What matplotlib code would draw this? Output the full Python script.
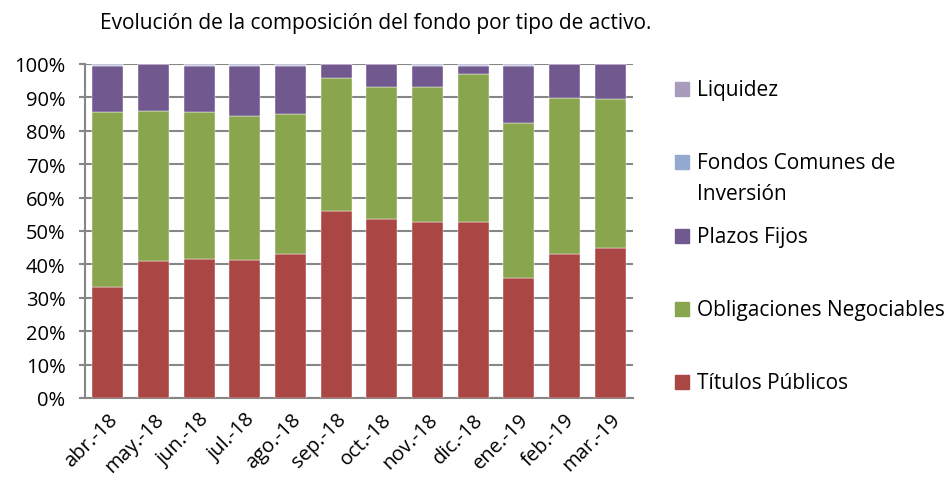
import numpy as np
import matplotlib.pyplot as plt
from matplotlib.patches import Rectangle
from matplotlib.ticker import PercentFormatter

plt.rcParams['font.family'] = ['Open Sans', 'DejaVu Sans']

# months and stacked shares (%)
months = ['abr.-18', 'may.-18', 'jun.-18', 'jul.-18', 'ago.-18', 'sep.-18',
          'oct.-18', 'nov.-18', 'dic.-18', 'ene.-19', 'feb.-19', 'mar.-19']
titulos = [33.3, 40.9, 41.5, 41.4, 43.1, 56.1, 53.5, 52.8, 52.8, 36.0, 43.1, 44.8]
obligaciones = [52.2, 45.1, 44.0, 43.0, 41.8, 39.7, 39.6, 40.3, 44.1, 46.3, 46.8, 44.6]
plazos = [13.8, 14.0, 13.8, 14.9, 14.4, 4.2, 6.9, 6.2, 2.4, 17.0, 10.1, 10.6]
fci = [0.5, 0.0, 0.5, 0.5, 0.5, 0.0, 0.0, 0.5, 0.5, 0.5, 0.0, 0.0]
liquidez = [0.2, 0.0, 0.2, 0.2, 0.2, 0.0, 0.0, 0.2, 0.2, 0.2, 0.0, 0.0]

series = [
    ('Títulos Públicos', titulos, '#AA4643'),
    ('Obligaciones Negociables', obligaciones, '#89A54E'),
    ('Plazos Fijos', plazos, '#71588F'),
    ('Fondos Comunes de\nInversión', fci, '#93A9CF'),
    ('Liquidez', liquidez, '#A99BBD'),
]

W, H = 950, 481
fig = plt.figure(figsize=(W / 100, H / 100), dpi=100)
ax = fig.add_axes([85 / W, 1 - 399 / H, 548 / W, 334 / H])

x = np.arange(len(months))
bottom = np.zeros(len(months))
for name, vals, col in series:
    vals = np.array(vals)
    ax.bar(x, vals, 0.68, bottom=bottom, color=col, label=name,
           edgecolor='white', linewidth=0.3, zorder=3)
    bottom += vals

ax.set_xlim(-0.5, len(months) - 0.5)
ax.set_ylim(0, 100)
ax.set_yticks(np.arange(0, 101, 10))
ax.yaxis.set_major_formatter(PercentFormatter(decimals=0))
ax.grid(axis='y', color='#868686', linewidth=1.5, zorder=0)
ax.set_xticks(x)
ax.set_xticklabels(months, rotation=45, ha='right', rotation_mode='anchor')
ax.tick_params(axis='both', labelsize=14.5, colors='#868686', labelcolor='black')
ax.tick_params(axis='x', length=0, pad=8)
ax.tick_params(axis='y', length=4, width=1.5, pad=10)
for s in ['top', 'right']:
    ax.spines[s].set_visible(False)
for s in ['left', 'bottom']:
    ax.spines[s].set_color('#868686')
    ax.spines[s].set_linewidth(1.5)

fig.text(376 / W, 1 - 23 / H, 'Evolución de la composición del fondo por tipo de activo.',
         ha='center', va='center', fontsize=15)

# legend drawn by hand so the spacing follows the original (top entry first)
leg_y = [90, 163, 237, 310, 383]
for (name, vals, col), yy in zip(series[::-1], leg_y):
    fig.patches.append(Rectangle((675 / W, 1 - (yy + 7) / H), 14 / W, 14 / H,
                                 transform=fig.transFigure, color=col))
    fig.text(697 / W, 1 - (yy - 10) / H, name, ha='left', va='top',
             fontsize=15, linespacing=1.6)

fig.savefig('out.png', dpi=100)
